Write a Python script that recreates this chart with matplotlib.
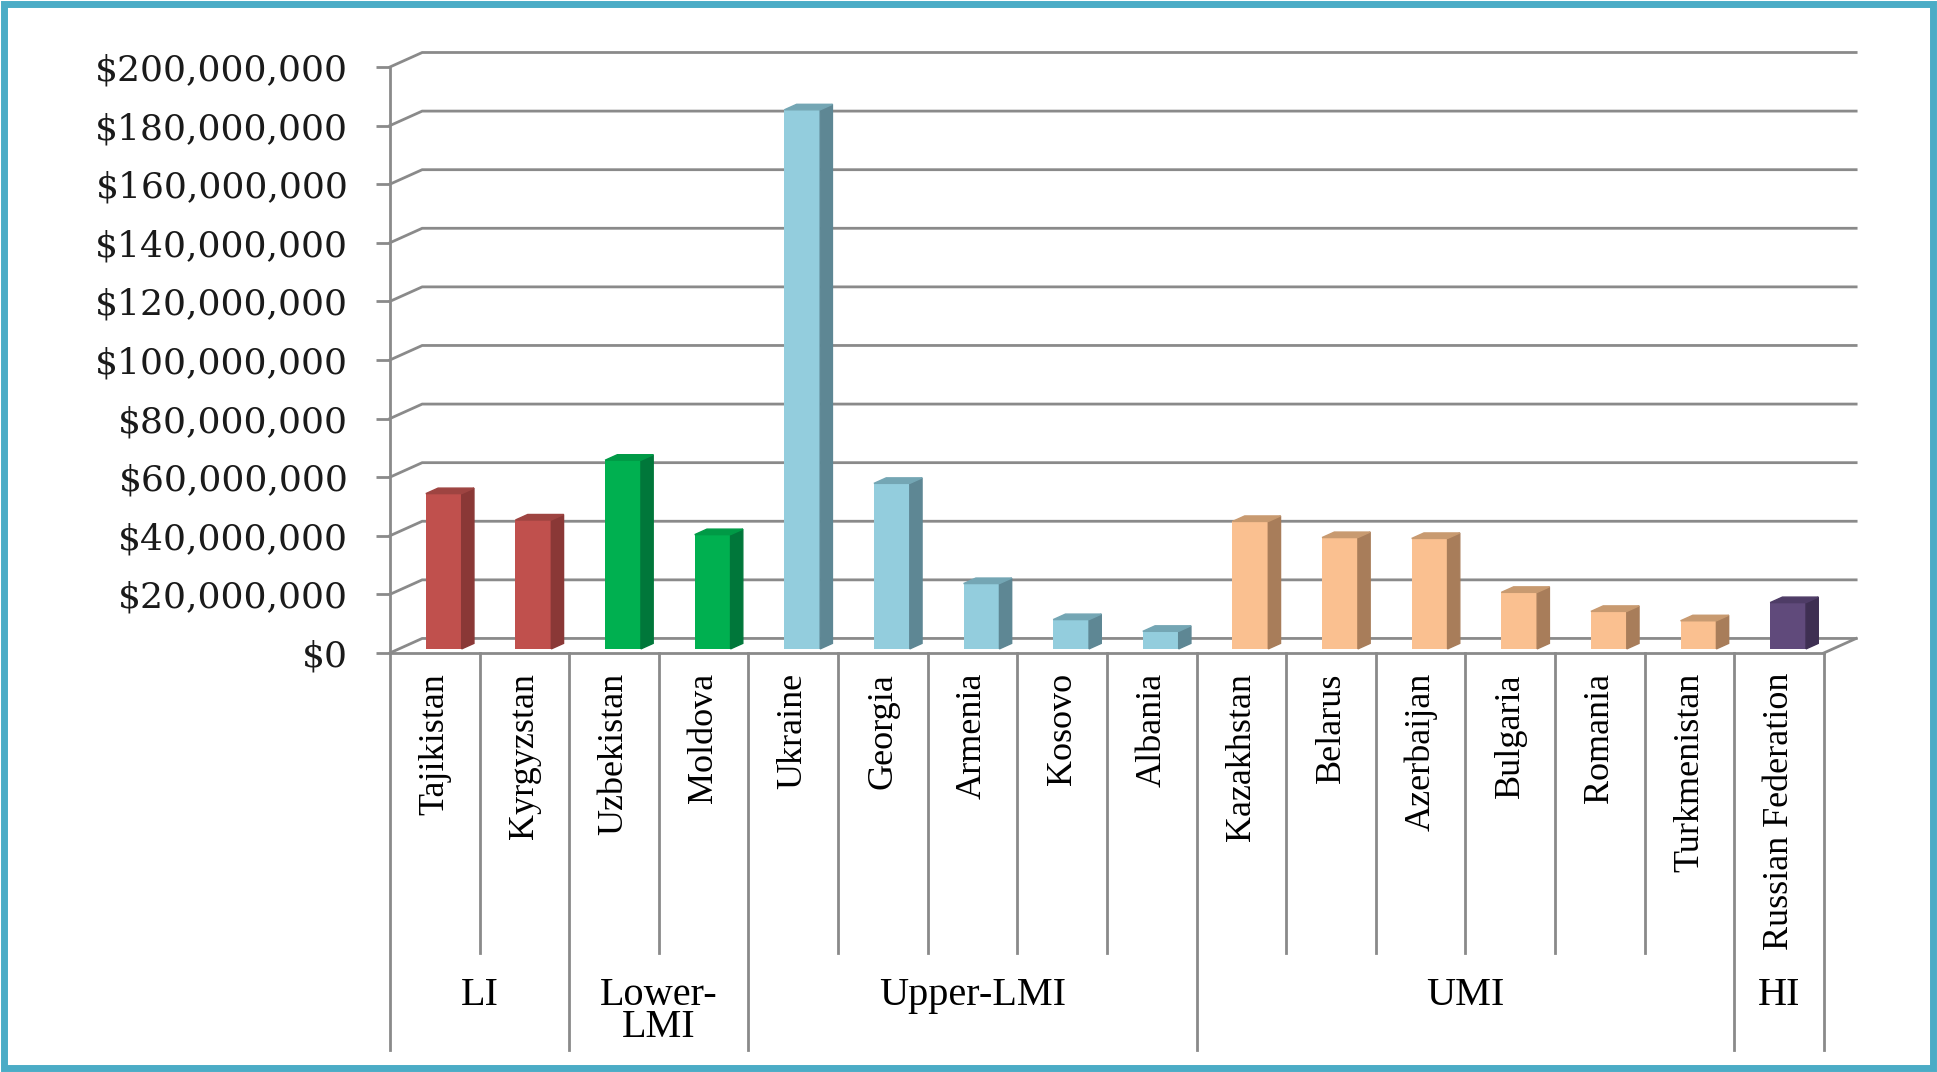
import matplotlib.pyplot as plt
import matplotlib.transforms as mtransforms
from matplotlib.patches import Rectangle

countries = ["Tajikistan", "Kyrgyzstan", "Uzbekistan", "Moldova", "Ukraine", "Georgia",
             "Armenia", "Kosovo", "Albania", "Kazakhstan", "Belarus", "Azerbaijan",
             "Bulgaria", "Romania", "Turkmenistan", "Russian Federation"]
values_m = [53, 44, 64.4, 39, 184, 56.5, 22.3, 10, 6, 43.5, 38, 37.7, 19.3, 12.8, 9.6, 15.8]

groups = ["LI", "Lower-\nLMI", "Upper-LMI", "UMI", "HI"]
group_sizes = [2, 2, 5, 6, 1]
# front, side, top
group_colors = [("#C0504D", "#8A3836", "#9E4441"),
                ("#00B050", "#00773A", "#009A46"),
                ("#93CDDD", "#5E8794", "#74A6B4"),
                ("#FAC090", "#A87D5A", "#C89A70"),
                ("#604A7B", "#3E2F52", "#4E3C66")]

yticks_m = list(range(0, 201, 20))

GRID = "#8a8a8a"
DDX, DDY = 0.36, 4.95e6   # depth of the floor / walls in data units
F0, DEP = 0.28, 0.38      # bar front position and bar depth (fraction of DDX/DDY)
BW = 0.40

fig = plt.figure(figsize=(19.37, 10.72), dpi=100)
ax = fig.add_axes([0.2013, 0.3909, 0.7403, 0.5466])
n = len(countries)
ax.set_xlim(0, n)
ax.set_ylim(0, 200e6)

# back wall gridlines with the little diagonal on the side wall
for v in yticks_m:
    y = v * 1e6
    ax.plot([0, DDX, n + DDX], [y, y + DDY, y + DDY], color=GRID, lw=2,
            zorder=1, clip_on=False, solid_joinstyle="miter")
# right edge of the floor
ax.plot([n, n + DDX], [0, DDY], color=GRID, lw=2, zorder=1, clip_on=False)

# bar colors per category
colors = []
for (gs, c) in zip(group_sizes, group_colors):
    colors += [c] * gs

for i, v in enumerate(values_m):
    front, side, top = colors[i]
    h = v * 1e6
    xl = i + 0.5 - BW / 2 + F0 * DDX
    xr = xl + BW
    b = F0 * DDY
    ax.bar(xl, h, width=BW, bottom=b, align="edge", color=front, zorder=3, clip_on=False)
    ax.fill([xr, xr + DEP * DDX, xr + DEP * DDX, xr],
            [b, b + DEP * DDY, b + h + DEP * DDY, b + h], color=side, zorder=3, clip_on=False)
    ax.fill([xl, xl + DEP * DDX, xr + DEP * DDX, xr],
            [b + h, b + h + DEP * DDY, b + h + DEP * DDY, b + h], color=top, zorder=3, clip_on=False)

ax.set_yticks([v * 1e6 for v in yticks_m])
ax.set_yticklabels(["${:,.0f}".format(v * 1e6) for v in yticks_m],
                   family="DejaVu Serif", fontsize=26, color="#1a1a1a")
ax.tick_params(axis="y", length=10, width=2, color=GRID, pad=20)
ax.set_xticks([])
for s in ["top", "right"]:
    ax.spines[s].set_visible(False)
for s in ["left", "bottom"]:
    ax.spines[s].set_color(GRID)
    ax.spines[s].set_linewidth(2)

# category table below the floor
trans = mtransforms.blended_transform_factory(ax.transData, fig.transFigure)
y_floor = 0.3909
bounds = [0]
for gs in group_sizes:
    bounds.append(bounds[-1] + gs)
for k in range(n + 1):
    y_end = 0.0205 if k in bounds else 0.111
    ax.plot([k, k], [y_floor, y_end], color=GRID, lw=2, transform=trans, clip_on=False)

for i, name in enumerate(countries):
    ax.text(i + 0.5, 0.3722, name, rotation=90, ha="center", va="top",
            family="Liberation Serif", fontsize=26, transform=trans)

for g, lo, hi in zip(groups, bounds[:-1], bounds[1:]):
    ax.text((lo + hi) / 2, 0.0885, g, ha="center", va="top", linespacing=0.82,
            family="Liberation Serif", fontsize=29, transform=trans)

fig.patches.append(Rectangle((0.002, 0.0035), 0.996, 0.993, transform=fig.transFigure,
                             fill=False, edgecolor="#4BACC6", lw=5))

fig.savefig("out.png", dpi=100)
